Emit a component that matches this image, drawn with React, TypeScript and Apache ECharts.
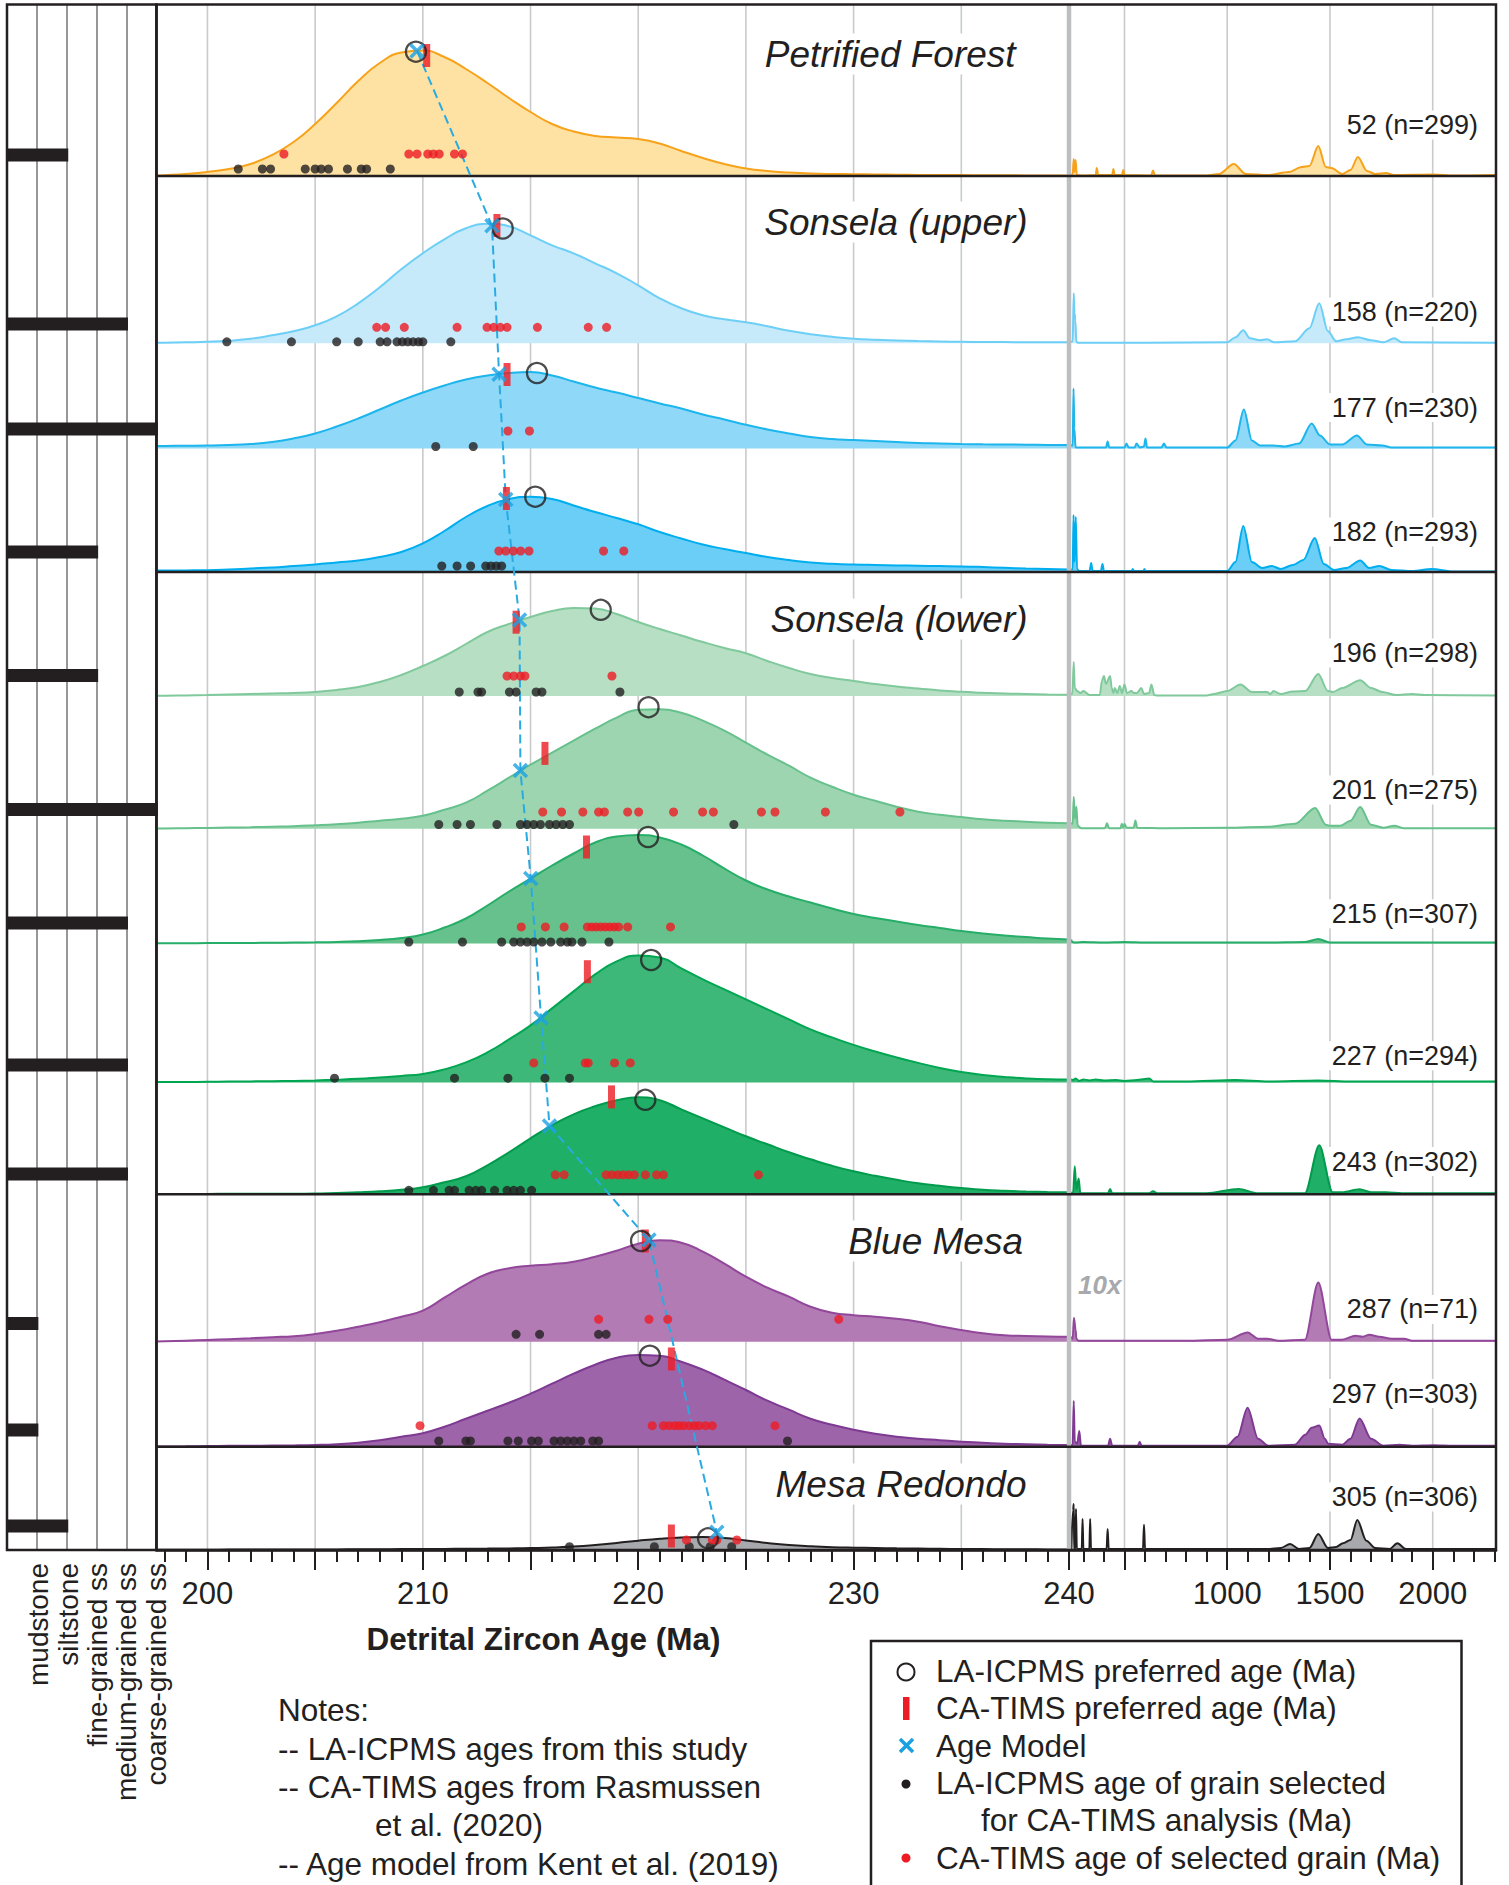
import React, { useEffect, useRef } from "react";
import * as echarts from "echarts";

// ---------------- DATA ----------------
// ages (Ma) at which the left-hand (197.6–240 Ma) density curves were read
const LEFT_AGES = [197.63, 198, 199, 200, 201, 202, 203, 204, 205, 206, 207, 208, 209, 210, 211, 212, 213, 214, 215, 216, 217, 218, 219, 220, 221, 222, 223, 224, 225, 226, 227, 228, 229, 230, 231, 232, 233, 234, 235, 236, 237, 238, 239, 240];

// density curve heights (px above the sample baseline)
const D52 = [0.5, 0.8, 2, 4, 7, 12, 21, 34, 52, 73, 95, 113, 123.5, 125.5, 119, 107, 93, 78, 64, 52, 44.5, 40, 38.5, 37, 32.5, 25, 18, 12, 7.6, 5, 3.5, 2.5, 2, 1.8, 1.5, 1.3, 1.1, 1, 0.9, 0.8, 0.7, 0.6, 0.5, 0.5];
const D158 = [0.5, 0.6, 1, 1.5, 2.5, 4.6, 8, 12, 18, 27, 40, 56, 74, 90, 104, 115, 119.5, 117, 108, 98, 90, 80, 70, 58, 45, 35, 28, 24, 21, 17, 12.5, 9, 6.5, 4.6, 3.5, 2.8, 2.2, 1.8, 1.5, 1.3, 1.2, 1.1, 1, 1];
const D177 = [2.5, 2.6, 2.8, 3, 3.5, 4.5, 6.5, 10, 15, 22, 30, 39, 48, 56, 63, 69, 73, 75.5, 76.5, 73, 67, 61, 56, 50.5, 45, 40, 34, 29, 23.7, 19, 15, 11.5, 9.5, 8.5, 7.5, 6.5, 5.5, 5, 4.5, 4.2, 4, 3.8, 3.6, 3.5];
const D182 = [1.5, 1.5, 1.6, 1.8, 2.5, 3.5, 4.5, 6, 7.5, 9.5, 11.5, 15, 20, 28.6, 41, 55, 66, 73, 75.3, 73, 66.5, 60, 54, 47.7, 40, 33.5, 27.5, 23, 19, 15, 12, 9.5, 8.3, 7.5, 7, 6.6, 6.2, 5.9, 5.6, 5, 4.2, 3.5, 3, 2.5];
const D196 = [0.3, 0.3, 0.6, 1, 1.5, 2, 2.5, 3, 4, 6, 9, 14, 21, 30, 40, 52, 64, 72, 79, 85, 88, 87.5, 82, 74, 67, 60.5, 54, 48, 42.7, 35, 28, 22, 18, 15, 12, 9.5, 7.5, 5.5, 4.2, 3.3, 2.5, 2, 1.6, 1.3];
const D201 = [0.3, 0.3, 0.5, 0.8, 1.1, 1.5, 2, 2.5, 3.4, 4.5, 6, 8, 10, 13, 19, 26, 38, 51, 64, 76, 88, 100, 111, 119, 119.5, 116, 108, 98, 86, 74, 63, 51, 42, 34, 28, 22, 17, 14, 11.7, 9.5, 8, 7, 6, 5.4];
const D215 = [0.2, 0.2, 0.3, 0.4, 0.5, 0.6, 0.7, 0.9, 1.2, 1.6, 2.3, 3.5, 5.5, 9, 16, 25, 38, 52, 65, 78, 90, 101, 107, 108.5, 106, 99, 88, 75, 63, 54, 47, 41, 35, 29.5, 25.5, 22, 18.5, 15.5, 12.5, 10, 8, 6.5, 5, 4];
const D227 = [0.3, 0.3, 0.45, 0.6, 0.8, 1, 1.2, 1.5, 2, 2.7, 3.6, 5, 6.5, 8.5, 13, 20, 30, 43, 57, 74, 91, 108, 121, 127, 125, 114, 103, 93, 83, 73, 63, 53, 45, 37.5, 31, 25, 19.5, 14.5, 10.5, 7.5, 5.5, 4, 3.2, 3];
const D243 = [0.2, 0.2, 0.3, 0.4, 0.45, 0.5, 0.55, 0.6, 0.8, 1.2, 2, 3, 4.5, 7, 12, 18, 29, 42, 56, 69, 80, 88, 94, 97, 94, 85, 76, 67, 58, 50, 42, 35, 28.5, 23, 18.5, 14.5, 11, 8.5, 6.3, 4.5, 3.5, 2.8, 2.3, 2];
const D287 = [0.3, 0.4, 1, 1.7, 2.5, 3.4, 4.5, 5.5, 7.7, 11, 15, 19.5, 25, 31, 44, 57, 68, 73.5, 76, 77.5, 80, 85, 91, 98, 101.5, 99, 90, 78, 65, 54, 45, 35, 29, 26.5, 25, 23, 20, 15.5, 11.7, 8.5, 6.5, 5.7, 5.2, 5];
const D297 = [0.2, 0.2, 0.4, 0.7, 0.85, 1, 1.15, 1.3, 1.7, 2.5, 4, 6.5, 10, 13.5, 20, 28, 36, 44, 53, 63, 73, 82, 89, 91.7, 91, 85, 77, 67, 56.7, 46, 37, 28, 22, 17, 13, 10, 8, 6.5, 5, 4, 3, 2.5, 2, 1.7];
const D305 = [0.2, 0.2, 0.3, 0.3, 0.4, 0.4, 0.4, 0.5, 0.5, 0.6, 0.7, 0.8, 0.9, 1, 1.1, 1.3, 1.4, 1.6, 1.9, 2.6, 3.5, 5, 7, 9.3, 11.3, 12.6, 13, 12, 9.5, 7, 5, 3.7, 2.8, 2.3, 2, 1.7, 1.5, 1.2, 1, 0.9, 0.8, 0.7, 0.6, 0.5];

// right-hand (240–2300 Ma, compressed) curves: [age, height]
const R52 = [[240, 0.5], [248, 2], [253, 17], [257, 4], [262, 16], [268, 1], [300, 0.5], [360, 1], [365, 8], [372, 1], [440, 1], [446, 7], [452, 1], [488, 1], [494, 6], [500, 1], [630, 0.5], [639, 5.5], [648, 0.5], [900, 0.5], [960, 2], [1032, 12], [1090, 2], [1200, 1], [1300, 4], [1362, 9], [1400, 10], [1443, 30], [1480, 9], [1507, 8], [1560, 2], [1600, 6], [1636, 19], [1680, 5], [1720, 2], [1773, 3], [1810, 1], [2005, 1.5], [2100, 0.5], [2308, 1]];
const R158 = [[240, 1], [248, 2], [253, 50], [257, 30], [261, 23], [265, 2], [272, 0.5], [600, 0.5], [1000, 1], [1040, 6], [1078, 13], [1110, 5], [1160, 3], [1194, 4], [1230, 1], [1330, 2], [1400, 15], [1448, 40], [1490, 12], [1530, 2], [1580, 4], [1636, 6], [1700, 3], [1760, 1], [1813, 5], [1850, 1], [2308, 0.5]];
const R177 = [[240, 3.5], [248, 3], [252, 60], [256, 20], [262, 1], [410, 1], [418, 7], [426, 1], [500, 1], [510, 5], [520, 1], [550, 1], [558, 5], [575, 1], [595, 2], [602, 10], [610, 1], [680, 1], [692, 5], [704, 1], [1000, 1], [1040, 8], [1081, 39], [1120, 8], [1160, 3], [1225, 3], [1280, 2], [1350, 5], [1411, 25], [1451, 13], [1500, 4], [1560, 4], [1631, 13], [1680, 4], [1755, 3], [1800, 1], [2308, 1]];
const R182 = [[240, 2.5], [248, 3], [252, 57], [257, 10], [263, 55], [269, 3], [280, 1], [330, 1], [338, 9], [345, 1], [385, 1], [393, 8], [400, 1], [535, 1], [540, 3], [546, 1], [592, 1], [597, 3], [603, 1], [1000, 1], [1040, 10], [1078, 46], [1120, 10], [1170, 4], [1217, 6], [1260, 3], [1320, 7], [1370, 12], [1426, 34], [1470, 8], [1520, 2], [1580, 4], [1647, 11.5], [1690, 4], [1740, 6], [1800, 2], [1900, 1], [1996, 3], [2100, 0.5], [2308, 0.5]];
const R196 = [[240, 1.3], [247, 3], [253, 34], [258, 8], [270, 5], [285, 3], [300, 5], [330, 1], [380, 1], [390, 15], [400, 20], [410, 12], [430, 20], [438, 8], [446, 3], [453, 8], [465, 3], [477, 10], [488, 3], [500, 11.6], [512, 3], [534, 5], [545, 3], [560, 3], [582, 8], [595, 2], [620, 3], [631, 11.6], [645, 1], [660, 0.5], [900, 0.5], [935, 2], [1000, 5], [1065, 11.6], [1120, 4], [1194, 4], [1210, 2], [1225, 5], [1260, 2], [1320, 4.5], [1380, 5], [1443, 22], [1490, 5], [1514, 4], [1560, 8], [1647, 15.7], [1700, 8], [1755, 4], [1820, 1], [1900, 2], [1960, 1], [2308, 0.5]];
const R201 = [[240, 5.4], [248, 5], [253, 32], [259, 10], [266, 22], [272, 3], [290, 0.5], [405, 0.5], [415, 5.4], [425, 0.5], [480, 0.5], [487, 5], [494, 1], [500, 5], [510, 1], [545, 1], [553, 8.3], [562, 1], [700, 0.5], [1000, 1], [1200, 2], [1330, 5], [1428, 20.7], [1480, 4], [1496, 3], [1550, 3], [1600, 8], [1647, 21.6], [1700, 4], [1760, 1], [1813, 3], [1860, 0.5], [2308, 0.5]];
const R215 = [[240, 4], [246, 1.5], [260, 1], [300, 1.5], [400, 1], [500, 1.5], [600, 1], [800, 1], [1000, 1], [1200, 1], [1380, 1.5], [1443, 4.5], [1500, 1], [2308, 1]];
const R227 = [[240, 3], [250, 2.5], [262, 4], [280, 1.5], [300, 3], [330, 2], [360, 3], [400, 2], [460, 2.5], [500, 1.5], [560, 2.5], [621, 4], [640, 1], [800, 1], [1040, 2.5], [1200, 1], [1443, 2], [1600, 1], [2308, 1]];
const R243 = [[240, 2], [250, 1], [258, 28], [266, 5], [277, 15.7], [285, 1], [420, 1], [430, 5.4], [440, 1], [620, 1], [639, 3], [660, 1], [900, 1], [1055, 5.4], [1150, 1], [1378, 1], [1448, 49], [1513, 2], [1560, 2], [1644, 5], [1700, 2], [1773, 2], [1850, 1], [2308, 1]];
const R287 = [[240, 5], [248, 3], [254, 24], [262, 12], [266, 3], [275, 1], [800, 1], [1000, 2], [1099, 9.3], [1150, 3], [1194, 3], [1250, 1], [1378, 2], [1443, 59.3], [1508, 2], [1560, 2], [1624, 6], [1660, 5], [1692, 7], [1740, 5], [1800, 3], [1861, 3], [1900, 1], [2308, 1]];
const R297 = [[240, 1.7], [248, 2], [253, 45.7], [258, 5], [270, 3], [280, 15.7], [288, 1], [420, 1], [430, 8], [440, 1], [565, 1], [574, 5], [583, 1], [1000, 1], [1050, 10], [1099, 39], [1150, 8], [1200, 1], [1330, 2], [1380, 12], [1411, 19], [1448, 21.3], [1475, 8], [1491, 3], [1560, 2], [1600, 8], [1644, 28.3], [1700, 8], [1760, 1], [1838, 2], [1900, 1], [2005, 1.5], [2100, 1], [2308, 1]];
const R305 = [[240, 0.5], [250, 40], [253, 46], [256, 1], [261, 1], [264, 41], [268, 1], [292, 1], [296, 31], [300, 1], [329, 1], [333, 31], [337, 1], [413, 1], [418, 21], [423, 1], [590, 1], [595, 25.3], [600, 1], [1200, 1], [1260, 2], [1306, 6], [1350, 1], [1400, 2], [1443, 16], [1490, 2], [1530, 3], [1563, 6.7], [1600, 10], [1633, 30], [1677, 9.3], [1720, 2], [1790, 1], [1828, 6.7], [1870, 1], [2308, 1]];

const SAMPLE_IDS = ["52", "158", "177", "182", "196", "201", "215", "227", "243", "287", "297", "305"];
const SAMPLE_N = ["299", "220", "230", "293", "298", "275", "307", "294", "302", "71", "303", "306"];
const GROUP_TITLES = ["Petrified Forest", "Sonsela (upper)", "Sonsela (lower)", "Blue Mesa", "Mesa Redondo"];

// LA-ICPMS preferred age (circle) and CA-TIMS preferred age (bar), with height on curve
const LA_PREF_AGE = [209.68, 213.71, 215.3, 215.22, 218.26, 220.48, 220.46, 220.6, 220.33, 220.13, 220.54, 223.24];
const LA_PREF_H = [124.3, 114.8, 75.5, 75.3, 86.2, 121.5, 106.5, 122.4, 94.5, 100.7, 91, 11.7];
const TIMS_PREF_AGE = [210.18, 213.44, 213.91, 213.88, 214.33, 215.67, 217.6, 217.64, 218.76, 220.33, 221.54, 221.54];
const TIMS_PREF_H = [120.5, 117.8, 74, 73.5, 73.8, 75.3, 96.5, 110.7, 97.4, 100.7, 87.7, 14];
// Age model (Kent et al. 2019)
const MODEL_PANEL = [0, 1, 2, 3, 4, 5, 6, 7, 8, 9, 11];
const MODEL_AGE = [209.73, 213.21, 213.54, 213.85, 214.49, 214.53, 215.01, 215.49, 215.88, 220.5, 223.65];
const MODEL_H = [125.1, 117.5, 74.2, 72.6, 75.9, 58.1, 65.1, 64.3, 68.4, 101.7, 17.7];

// LA-ICPMS ages of grains selected for CA-TIMS (black dots)
const LA_GRAINS = [
  [201.43, 202.55, 202.93, 204.54, 205.0, 205.28, 205.62, 206.5, 207.14, 207.39, 208.49],
  [200.9, 203.9, 206.0, 207.0, 208.02, 208.34, 208.8, 209.05, 209.3, 209.55, 209.8, 210.0, 211.3],
  [210.6, 212.34],
  [210.88, 211.59, 212.22, 212.92, 213.16, 213.41, 213.66],
  [211.69, 212.56, 212.73, 214.02, 214.33, 215.26, 215.53, 219.15],
  [210.74, 211.59, 212.21, 213.44, 214.53, 214.84, 215.15, 215.46, 215.88, 216.19, 216.5, 216.81, 224.44],
  [209.35, 211.84, 213.66, 214.22, 214.53, 214.84, 215.15, 215.53, 215.94, 216.4, 216.71, 216.92, 217.39, 218.64],
  [205.9, 211.47, 213.95, 215.67, 216.81],
  [209.35, 210.49, 211.22, 211.47, 212.15, 212.46, 212.73, 213.33, 213.91, 214.22, 214.53, 215.05],
  [214.33, 215.42, 218.16, 218.51],
  [210.74, 212.0, 212.21, 213.95, 214.43, 215.05, 215.36, 216.09, 216.4, 216.71, 217.02, 217.33, 217.89, 218.16, 226.93],
  [216.81, 220.75, 222.37, 223.34, 224.34],
];
// CA-TIMS ages of selected grains (red dots)
const TIMS_GRAINS = [
  [203.55, 209.35, 209.73, 210.23, 210.49, 210.76, 211.47, 211.84],
  [207.86, 208.27, 209.14, 211.59, 212.98, 213.29, 213.6, 213.91, 215.32, 217.68, 218.53],
  [213.95, 214.95],
  [213.53, 213.85, 214.2, 214.54, 214.93, 218.39, 219.33],
  [213.91, 214.22, 214.53, 214.74, 218.78],
  [215.57, 216.44, 217.43, 218.16, 218.43, 219.51, 220.02, 221.64, 222.99, 223.49, 225.72, 226.35, 228.69, 232.15],
  [214.57, 215.69, 216.56, 217.64, 217.85, 218.05, 218.26, 218.47, 218.68, 218.89, 219.09, 219.51, 221.5],
  [215.15, 217.54, 217.68, 218.9, 219.63],
  [216.15, 216.56, 218.51, 218.78, 219.05, 219.3, 219.55, 219.82, 220.33, 220.85, 221.17, 225.58],
  [218.16, 220.5, 221.37, 229.31],
  [209.87, 220.65, 221.17, 221.43, 221.69, 221.89, 222.1, 222.37, 222.61, 222.82, 223.13, 223.44, 226.35],
  [222.24, 223.44, 223.65, 224.58],
];

// lithology: 1 mudstone ... 5 coarse-grained ss
const GRAIN_CLASSES = ["mudstone", "siltstone", "fine-grained ss", "medium-grained ss", "coarse-grained ss"];
const LITHO_GRAIN = [2, 4, 5, 3, 3, 5, 4, 4, 4, 1, 1, 2];

// ticks
const LEFT_MAJOR_TICKS = [200, 205, 210, 215, 220, 225, 230, 235, 240];
const LEFT_MINOR_TICKS = [198, 199, 201, 202, 203, 204, 206, 207, 208, 209, 211, 212, 213, 214, 216, 217, 218, 219, 221, 222, 223, 224, 226, 227, 228, 229, 231, 232, 233, 234, 236, 237, 238, 239];
const LEFT_LABELS = [200, 210, 220, 230, 240];
const LEFT_GRID = [200, 205, 210, 215, 220, 225, 230, 235];
const RIGHT_MAJOR_TICKS = [500, 1000, 1500, 2000];
const RIGHT_MINOR_TICKS = [300, 400, 600, 700, 800, 900, 1100, 1200, 1300, 1400, 1600, 1700, 1800, 1900, 2100, 2200, 2300];
const RIGHT_LABELS = [1000, 1500, 2000];
const RIGHT_GRID = [500, 1000, 1500, 2000];

// ---------------- LAYOUT / STYLE ----------------
const FONT = "'Liberation Sans', Arial, Helvetica, sans-serif";
const INK = "#231f20";
const RED = "#ed1c24";
const BLUE = "#1ba1e2";
const GRID_COLOR = "#c9cacb";
const PLOT_LEFT = 156.4;
const SPLIT_X = 1069;
const PLOT_RIGHT = 1496;
const PLOT_TOP = 4.6;
const PLOT_BOTTOM = 1550;
const LITHO_LEFT = 7;
const YMAX = PLOT_BOTTOM - PLOT_TOP;
const LEFT_MIN = 197.63;
const RIGHT_MIN = 230;
const RIGHT_MAX = 2308;

const BASE_PX = [176, 343.3, 448.5, 572, 696, 828.7, 943.5, 1082.4, 1194.3, 1341.7, 1446.7, 1550];
const LABEL_Y_PX = [125, 312, 407.6, 532, 653, 790, 913.8, 1055.7, 1161.5, 1309.4, 1393.6, 1497];
const BLACK_OFF = [7, 1.5, 2, 6, 4, 4.2, 1.5, 4.2, 4, 7.4, 5.7, 3.3];
const RED_OFF = [22, 16, 17.5, 21, 20, 16.7, 16.6, 19.5, 19.5, 22.4, 21, 10];
const LITHO_Y_PX = [155, 324, 429, 552, 675.5, 809.5, 923, 1065, 1174, 1323.5, 1430, 1526];
const SEPARATOR_PX = [176, 572, 1194.3, 1446.7];
const TITLE_POS = [[1019.6, 54], [1031.6, 222], [1031.6, 619], [1027, 1241], [1030.5, 1484]];
const GRAIN_LABEL_X = [38.6, 68.2, 97.5, 126.8, 156.4];

const FILLS = ["#fee2a3", "#c7eafb", "#8fd8f8", "#6acef6", "#b6dfc3", "#9dd5b0", "#66c18c", "#3db878", "#1faf66", "#b27bb4", "#9e64a9", "#a7a9ac"];
const LINES = ["#f7a21b", "#6dcff6", "#1cb5ec", "#00aeef", "#80c99c", "#66c18c", "#26ad68", "#00a651", "#009b4c", "#92479b", "#7e3a92", INK];

const LEFT_DENS = [D52, D158, D177, D182, D196, D201, D215, D227, D243, D287, D297, D305];
const RIGHT_DENS = [R52, R158, R177, R182, R196, R201, R215, R227, R243, R287, R297, R305];

const yv = (px: number) => PLOT_BOTTOM - px;

function lineEl(p1: number[], p2: number[], stroke: string, lw: number) {
  return { type: "line", shape: { x1: p1[0], y1: p1[1], x2: p2[0], y2: p2[1] }, style: { stroke, lineWidth: lw } };
}

function text(t: string, x: number, y: number, size: number, extra: any = {}) {
  const { align = "left", vAlign = "middle", weight = "normal", fstyle = "normal", fill = INK, bg, pad, rotation } = extra;
  const el: any = {
    type: "text",
    x,
    y,
    z: 100,
    silent: true,
    style: {
      text: t,
      fill,
      fontSize: size,
      fontFamily: FONT,
      fontWeight: weight,
      fontStyle: fstyle,
      align,
      verticalAlign: vAlign,
      textAlign: align,
      textVerticalAlign: vAlign,
    },
  };
  if (bg) {
    el.style.backgroundColor = bg;
    el.style.padding = pad || [2, 4];
  }
  if (rotation) el.rotation = rotation;
  return el;
}

function buildOption() {
  const series: any[] = [];

  // vertical grid lines (below the curves)
  series.push({
    type: "custom", xAxisIndex: 0, yAxisIndex: 0, z: 1, silent: true,
    data: LEFT_GRID.map((a) => [a, 0]),
    renderItem: (_p: any, api: any) => lineEl(api.coord([api.value(0), 0]), api.coord([api.value(0), YMAX]), GRID_COLOR, 1.6),
  });
  series.push({
    type: "custom", xAxisIndex: 2, yAxisIndex: 1, z: 1, silent: true,
    data: RIGHT_GRID.map((a) => [a, 0]),
    renderItem: (_p: any, api: any) => lineEl(api.coord([api.value(0), 0]), api.coord([api.value(0), YMAX]), GRID_COLOR, 1.6),
  });

  // density curves, each filled down to its own baseline
  LEFT_DENS.forEach((dens, i) => {
    const base = yv(BASE_PX[i]);
    series.push({
      type: "line", xAxisIndex: 0, yAxisIndex: 0, z: 2, silent: true,
      symbol: "none", smooth: 0.5,
      lineStyle: { width: 2, color: LINES[i] },
      areaStyle: { color: FILLS[i], opacity: 1, origin: base },
      data: LEFT_AGES.map((a, j) => [a, base + dens[j]]),
    });
  });
  RIGHT_DENS.forEach((dens, i) => {
    const base = yv(BASE_PX[i]);
    series.push({
      type: "line", xAxisIndex: 2, yAxisIndex: 1, z: 2, silent: true,
      symbol: "none", smooth: 0.3, smoothMonotone: "x",
      lineStyle: { width: 2, color: LINES[i] },
      areaStyle: { color: FILLS[i], opacity: 1, origin: base },
      data: dens.map((d) => [d[0], base + d[1]]),
    });
  });

  // 240 Ma break line
  series.push({
    type: "custom", xAxisIndex: 0, yAxisIndex: 0, z: 3, silent: true,
    data: [[240, 0]],
    renderItem: (_p: any, api: any) => lineEl(api.coord([240, 0]), api.coord([240, YMAX]), "#bcbec0", 4.5),
  });

  // frame + group separators
  series.push({
    type: "custom", xAxisIndex: 4, yAxisIndex: 2, z: 4, silent: true,
    data: SEPARATOR_PX.map((px) => [0, yv(px)]),
    renderItem: (_p: any, api: any) => lineEl(api.coord([0, api.value(1)]), api.coord([1, api.value(1)]), INK, 2.5),
  });
  series.push({
    type: "custom", xAxisIndex: 4, yAxisIndex: 2, z: 4, silent: true,
    data: [[0, 0]],
    renderItem: (_p: any, api: any) => {
      const tl = api.coord([0, YMAX]);
      const br = api.coord([1, 0]);
      return { type: "rect", shape: { x: tl[0], y: tl[1], width: br[0] - tl[0], height: br[1] - tl[1] }, style: { fill: "none", stroke: INK, lineWidth: 2.5 } };
    },
  });

  // lithology column
  series.push({
    type: "custom", xAxisIndex: 5, yAxisIndex: 3, z: 4, silent: true,
    data: LITHO_GRAIN.map((g, i) => [g, yv(LITHO_Y_PX[i])]),
    renderItem: (_p: any, api: any) => {
      const p0 = api.coord([0, api.value(1)]);
      const p1 = api.coord([api.value(0), api.value(1)]);
      return { type: "rect", shape: { x: p0[0] + 1, y: p0[1] - 6.5, width: p1[0] - p0[0] + 0.5, height: 13 }, style: { fill: INK } };
    },
  });
  series.push({
    type: "custom", xAxisIndex: 5, yAxisIndex: 3, z: 4, silent: true,
    data: [[0, 0]],
    renderItem: (_p: any, api: any) => {
      const tl = api.coord([0, YMAX]);
      const br = api.coord([5, 0]);
      return { type: "rect", shape: { x: tl[0], y: tl[1], width: br[0] - tl[0], height: br[1] - tl[1] }, style: { fill: "none", stroke: INK, lineWidth: 2.5 } };
    },
  });

  // age model dashed line
  const modelPts = MODEL_PANEL.map((p, k) => [MODEL_AGE[k], yv(BASE_PX[p]) + MODEL_H[k]]);
  series.push({
    type: "line", xAxisIndex: 0, yAxisIndex: 0, z: 5, silent: true,
    symbol: "none", data: modelPts,
    lineStyle: { color: "#29abe2", width: 2, type: [9, 5] },
  });

  // grains
  const blackDots: number[][] = [];
  const redDots: number[][] = [];
  LA_GRAINS.forEach((arr, i) => arr.forEach((a) => blackDots.push([a, yv(BASE_PX[i]) + BLACK_OFF[i]])));
  TIMS_GRAINS.forEach((arr, i) => arr.forEach((a) => redDots.push([a, yv(BASE_PX[i]) + RED_OFF[i]])));
  series.push({ type: "scatter", xAxisIndex: 0, yAxisIndex: 0, z: 6, silent: true, symbol: "circle", symbolSize: 9, itemStyle: { color: INK }, data: blackDots });
  series.push({ type: "scatter", xAxisIndex: 0, yAxisIndex: 0, z: 6, silent: true, symbol: "circle", symbolSize: 9, itemStyle: { color: RED }, data: redDots });

  // preferred ages
  series.push({
    type: "scatter", xAxisIndex: 0, yAxisIndex: 0, z: 6, silent: true, symbol: "rect", symbolSize: [7, 23],
    itemStyle: { color: RED },
    data: TIMS_PREF_AGE.map((a, i) => [a, yv(BASE_PX[i]) + TIMS_PREF_H[i]]),
  });
  series.push({
    type: "scatter", xAxisIndex: 0, yAxisIndex: 0, z: 7, silent: true, symbol: "circle", symbolSize: 20,
    itemStyle: { color: "rgba(0,0,0,0)", borderColor: INK, borderWidth: 2.3 },
    data: LA_PREF_AGE.map((a, i) => [a, yv(BASE_PX[i]) + LA_PREF_H[i]]),
  });
  series.push({
    type: "scatter", xAxisIndex: 0, yAxisIndex: 0, z: 8, silent: true,
    symbol: "path://M0 0L10 10M10 0L0 10", symbolSize: 13,
    itemStyle: { color: "rgba(0,0,0,0)", borderColor: BLUE, borderWidth: 3.5 },
    data: modelPts,
  });

  // ---------- graphic texts ----------
  const graphic: any[] = [];
  SAMPLE_IDS.forEach((id, i) => {
    graphic.push(text(`${id} (n=${SAMPLE_N[i]})`, 1481, LABEL_Y_PX[i], 27, { align: "right", bg: "#fff", pad: [1, 3] }));
  });
  GROUP_TITLES.forEach((t, i) => {
    graphic.push(text(t, TITLE_POS[i][0], TITLE_POS[i][1], 37, { align: "right", fstyle: "italic", bg: "#fff", pad: [2, 4] }));
  });
  graphic.push(text("10x", 1078, 1285, 26, { fstyle: "italic", weight: "bold", fill: "#a7a9ac" }));
  GRAIN_CLASSES.forEach((g, i) => {
    graphic.push(text(g, GRAIN_LABEL_X[i], 1563, 28, { align: "right", rotation: Math.PI / 2 }));
  });
  graphic.push(text("Detrital Zircon Age (Ma)", 543.5, 1639, 31.5, { align: "center", weight: "bold" }));

  // notes
  graphic.push(text("Notes:", 278, 1710, 31.5));
  graphic.push(text("-- LA-ICPMS ages from this study", 278, 1749, 31.5));
  graphic.push(text("-- CA-TIMS ages from Rasmussen", 278, 1787, 31.5));
  graphic.push(text("et al. (2020)", 375, 1825, 31.5));
  graphic.push(text("-- Age model from Kent et al. (2019)", 278, 1864, 31.5));

  // legend
  graphic.push({ type: "rect", z: 100, silent: true, shape: { x: 871, y: 1641, width: 590.5, height: 260 }, style: { fill: "#fff", stroke: INK, lineWidth: 2.5 } });
  graphic.push({ type: "circle", z: 101, silent: true, shape: { cx: 906, cy: 1672, r: 8.5 }, style: { fill: "none", stroke: INK, lineWidth: 2 } });
  graphic.push({ type: "rect", z: 101, silent: true, shape: { x: 903, y: 1697, width: 6.5, height: 23 }, style: { fill: RED } });
  graphic.push({ type: "line", z: 101, silent: true, shape: { x1: 900, y1: 1739, x2: 913, y2: 1752 }, style: { stroke: BLUE, lineWidth: 3.5 } });
  graphic.push({ type: "line", z: 101, silent: true, shape: { x1: 913, y1: 1739, x2: 900, y2: 1752 }, style: { stroke: BLUE, lineWidth: 3.5 } });
  graphic.push({ type: "circle", z: 101, silent: true, shape: { cx: 906, cy: 1784, r: 4.5 }, style: { fill: INK } });
  graphic.push({ type: "circle", z: 101, silent: true, shape: { cx: 906, cy: 1858, r: 4.5 }, style: { fill: RED } });
  const legendRows: [string, number, number][] = [
    ["LA-ICPMS preferred age (Ma)", 936, 1671],
    ["CA-TIMS preferred age (Ma)", 936, 1708],
    ["Age Model", 936, 1746],
    ["LA-ICPMS age of grain selected", 936, 1783],
    ["for CA-TIMS analysis (Ma)", 981, 1820],
    ["CA-TIMS age of selected grain (Ma)", 936, 1858],
  ];
  legendRows.forEach(([t, x, y]) => {
    const el = text(t, x, y, 31.5);
    el.z = 102;
    graphic.push(el);
  });

  const tickStyle = { color: INK, width: 2 };
  const hiddenY = (gi: number) => ({ gridIndex: gi, type: "value", min: 0, max: YMAX, show: false });
  const plainNum = (v: number) => String(v);

  return {
    animation: false,
    backgroundColor: "#fff",
    textStyle: { fontFamily: FONT },
    grid: [
      { left: PLOT_LEFT, top: PLOT_TOP, width: SPLIT_X - PLOT_LEFT, height: YMAX },
      { left: SPLIT_X, top: PLOT_TOP, width: PLOT_RIGHT - SPLIT_X, height: YMAX },
      { left: PLOT_LEFT, top: PLOT_TOP, width: PLOT_RIGHT - PLOT_LEFT, height: YMAX },
      { left: LITHO_LEFT, top: PLOT_TOP, width: PLOT_LEFT - LITHO_LEFT, height: YMAX },
    ],
    xAxis: [
      {
        gridIndex: 0, type: "value", min: LEFT_MIN, max: 240, position: "bottom",
        axisLine: { show: true, onZero: false, lineStyle: { color: INK, width: 2.5 } },
        axisTick: { show: true, customValues: LEFT_MAJOR_TICKS, length: 20, lineStyle: tickStyle },
        axisLabel: { show: true, customValues: LEFT_LABELS, fontSize: 31, color: INK, margin: 28, fontFamily: FONT, formatter: plainNum },
        splitLine: { show: false },
      },
      {
        gridIndex: 0, type: "value", min: LEFT_MIN, max: 240, position: "bottom",
        axisLine: { show: false, onZero: false },
        axisTick: { show: true, customValues: LEFT_MINOR_TICKS, length: 12, lineStyle: tickStyle },
        axisLabel: { show: false },
        splitLine: { show: false },
      },
      {
        gridIndex: 1, type: "value", min: RIGHT_MIN, max: RIGHT_MAX, position: "bottom",
        axisLine: { show: true, onZero: false, lineStyle: { color: INK, width: 2.5 } },
        axisTick: { show: true, customValues: RIGHT_MAJOR_TICKS, length: 20, lineStyle: tickStyle },
        axisLabel: { show: true, customValues: RIGHT_LABELS, fontSize: 31, color: INK, margin: 28, fontFamily: FONT, formatter: plainNum },
        splitLine: { show: false },
      },
      {
        gridIndex: 1, type: "value", min: RIGHT_MIN, max: RIGHT_MAX, position: "bottom",
        axisLine: { show: false, onZero: false },
        axisTick: { show: true, customValues: RIGHT_MINOR_TICKS, length: 12, lineStyle: tickStyle },
        axisLabel: { show: false },
        splitLine: { show: false },
      },
      { gridIndex: 2, type: "value", min: 0, max: 1, show: false },
      {
        gridIndex: 3, type: "value", min: 0, max: 5, interval: 1,
        axisLine: { show: false, onZero: false }, axisTick: { show: false }, axisLabel: { show: false },
        splitLine: { show: true, lineStyle: { color: "#7d7d7d", width: 1.6 } },
      },
    ],
    yAxis: [hiddenY(0), hiddenY(1), hiddenY(2), hiddenY(3)],
    series,
    graphic,
  };
}

export default function App() {
  const ref = useRef<HTMLDivElement>(null);
  useEffect(() => {
    const chart = echarts.init(ref.current as HTMLDivElement, null, { renderer: "svg" });
    chart.setOption(buildOption() as any);
    return () => chart.dispose();
  }, []);
  return (
    <div
      ref={ref}
      style={{ position: "absolute", left: 0, top: 0, width: 1509, height: 1885, background: "#fff" }}
    />
  );
}
